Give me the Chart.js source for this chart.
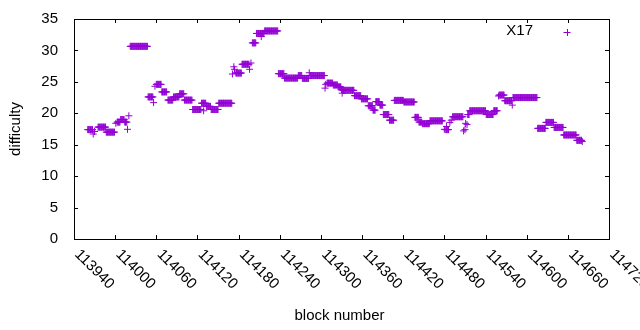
<!DOCTYPE html>
<html>
<head>
<meta charset="utf-8">
<script src="https://cdn.jsdelivr.net/npm/chart.js@4.4.0/dist/chart.umd.min.js"></script>
<style>
html, body { margin: 0; padding: 0; background: #fff; }
#wrap { width: 640px; height: 330px; }
</style>
</head>
<body>
<div id="wrap"><canvas id="chart" width="640" height="330"></canvas></div>
<script>
// Difficulty: first block, last block, difficulty
const runStart = [113960, 113968, 113970, 113975, 113987, 114001, 114003, 114008, 114014, 114018,
    114020, 114022, 114048, 114056, 114058, 114060, 114068, 114077, 114085, 114094,
    114101, 114113, 114126, 114129, 114133, 114140, 114151, 114171, 114173, 114174,
    114176, 114185, 114196, 114198, 114200, 114206, 114213, 114218, 114238, 114247,
    114267, 114273, 114283, 114284, 114306, 114307, 114309, 114318, 114325, 114330,
    114331, 114332, 114349, 114359, 114369, 114376, 114380, 114386, 114391, 114400,
    114407, 114421, 114437, 114443, 114448, 114459, 114480, 114482, 114483, 114488,
    114490, 114492, 114508, 114510, 114511, 114513, 114514, 114517, 114541, 114552,
    114559, 114560, 114568, 114579, 114580, 114616, 114628, 114640, 114654, 114673,
    114681];
const runEnd = [113967, 113968, 113970, 113986, 113999, 114001, 114007, 114013, 114017, 114018,
    114020, 114047, 114055, 114056, 114058, 114067, 114075, 114084, 114093, 114100,
    114112, 114125, 114132, 114129, 114139, 114150, 114170, 114171, 114173, 114174,
    114184, 114195, 114196, 114198, 114205, 114217, 114213, 114237, 114246, 114266,
    114272, 114282, 114283, 114305, 114306, 114307, 114317, 114324, 114329, 114331,
    114331, 114348, 114358, 114368, 114375, 114379, 114385, 114390, 114399, 114406,
    114420, 114436, 114442, 114447, 114458, 114477, 114480, 114486, 114483, 114488,
    114490, 114507, 114508, 114510, 114511, 114513, 114516, 114540, 114551, 114557,
    114559, 114567, 114578, 114579, 114615, 114627, 114639, 114653, 114672, 114680,
    114681];
const runValue = [17.4, 16.7, 17.1, 17.8, 17.0, 18.4, 18.6, 19.0, 18.6, 17.45,
    19.6, 30.65, 22.6, 21.7, 24.3, 24.6, 23.4, 22.1, 22.6, 23.1,
    22.1, 20.6, 21.6, 20.4, 21.1, 20.6, 21.6, 26.25, 27.4, 27.0,
    26.4, 27.8, 27.0, 28.0, 31.2, 32.7, 32.2, 33.1, 26.3, 25.6,
    26.0, 25.55, 26.45, 26.0, 24.0, 24.6, 24.8, 24.5, 24.2, 23.8,
    23.2, 23.65, 22.8, 22.3, 21.2, 20.5, 21.85, 21.3, 19.8, 18.9,
    22.05, 21.8, 19.35, 18.6, 18.35, 18.8, 17.45, 17.4, 17.9, 18.55,
    18.9, 19.45, 17.2, 17.4, 18.4, 18.2, 19.8, 20.4, 19.8, 20.4,
    22.75, 22.9, 22.0, 21.3, 22.5, 17.6, 18.55, 17.75, 16.55, 15.7,
    15.5];

const xTicks = [113940, 114000, 114060, 114120, 114180, 114240, 114300, 114360,
    114420, 114480, 114540, 114600, 114660, 114720];
const yTicks = [0, 5, 10, 15, 20, 25, 30, 35];

const seriesName = 'X17';
const purple = '#9400d3';
const FAMILY = '"Liberation Sans", Arial, sans-serif';
const FONT = '15px ' + FAMILY;

// one point per block
const points = [];
for (let i = 0; i < runStart.length; i++) {
    for (let b = runStart[i]; b <= runEnd[i]; b++) {
        points.push({ x: b, y: runValue[i] });
    }
}

// gnuplot style frame, inward ticks, rotated labels and key
const gnuplotLook = {
    id: 'gnuplotLook',
    beforeDatasetsDraw(chart) {
        const { ctx, chartArea: a, scales: { x, y } } = chart;
        ctx.save();
        ctx.strokeStyle = '#000';
        ctx.lineWidth = 1;
        ctx.beginPath();
        x.ticks.forEach(t => {
            const px = Math.round(x.getPixelForValue(t.value)) + 0.5;
            ctx.moveTo(px, a.bottom); ctx.lineTo(px, a.bottom - 4);
            ctx.moveTo(px, a.top); ctx.lineTo(px, a.top + 4);
        });
        y.ticks.forEach(t => {
            const py = Math.round(y.getPixelForValue(t.value)) + 0.5;
            ctx.moveTo(a.left, py); ctx.lineTo(a.left + 4, py);
            ctx.moveTo(a.right, py); ctx.lineTo(a.right - 4, py);
        });
        ctx.stroke();
        ctx.strokeRect(a.left + 0.5, a.top + 0.5, a.right - a.left, a.bottom - a.top);
        ctx.restore();
    },
    afterDraw(chart) {
        const { ctx, chartArea: a, scales: { x } } = chart;
        ctx.save();
        ctx.fillStyle = '#000';
        ctx.font = FONT;
        ctx.textAlign = 'left';
        ctx.textBaseline = 'middle';
        x.ticks.forEach(t => {
            const px = x.getPixelForValue(t.value);
            ctx.save();
            ctx.translate(px + 3, a.bottom + 13);
            ctx.rotate(Math.PI / 4);
            ctx.fillText(String(t.value), 0, 0);
            ctx.restore();
        });

        // axis titles
        ctx.textAlign = 'center';
        ctx.fillText('block number', (a.left + a.right) / 2 - 2, 316);
        ctx.save();
        ctx.translate(16, (a.top + a.bottom) / 2);
        ctx.rotate(-Math.PI / 2);
        ctx.fillText('difficulty', 0, 0);
        ctx.restore();

        // key
        ctx.textAlign = 'right';
        ctx.fillText(seriesName, 533, 31);
        ctx.strokeStyle = purple;
        ctx.lineWidth = 1;
        ctx.beginPath();
        ctx.moveTo(563.5, 32.5); ctx.lineTo(570.5, 32.5);
        ctx.moveTo(567.5, 29); ctx.lineTo(567.5, 36);
        ctx.stroke();
        ctx.restore();
    }
};

new Chart(document.getElementById('chart'), {
    type: 'scatter',
    data: {
        datasets: [{
            label: seriesName,
            data: points,
            pointStyle: 'cross',
            pointRadius: 3.5,
            pointHoverRadius: 3.5,
            borderColor: purple,
            backgroundColor: purple,
            borderWidth: 1
        }]
    },
    options: {
        responsive: false,
        animation: false,
        devicePixelRatio: 1,
        layout: { padding: { top: 19, right: 31, left: 0, bottom: 0 } },
        plugins: {
            legend: { display: false },
            tooltip: { enabled: false }
        },
        scales: {
            x: {
                type: 'linear',
                min: 113940,
                max: 114720,
                afterBuildTicks: s => { s.ticks = xTicks.map(v => ({ value: v })); },
                afterFit: s => { s.height = 91; },
                grid: { display: false },
                border: { display: false },
                ticks: { display: false }
            },
            y: {
                min: 0,
                max: 35,
                afterBuildTicks: s => { s.ticks = yTicks.map(v => ({ value: v })); },
                afterFit: s => { s.width = 74; },
                grid: { display: false },
                border: { display: false },
                ticks: {
                    color: '#000',
                    padding: 8,
                    font: { family: FAMILY, size: 15 }
                }
            }
        }
    },
    plugins: [gnuplotLook]
});
</script>
</body>
</html>
